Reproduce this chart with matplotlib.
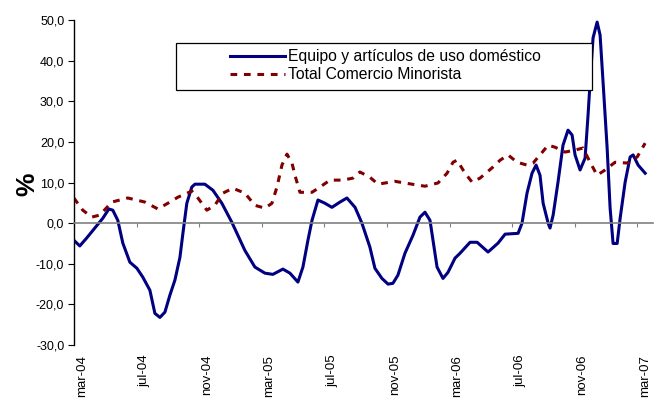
import matplotlib

matplotlib.use("Agg")
import matplotlib.pyplot as plt  # noqa: E402
from matplotlib.patches import Rectangle  # noqa: E402
from matplotlib.ticker import FuncFormatter  # noqa: E402

# x = months since mar-04 (0 = mar-04, 36 = mar-07), y = % change
equipo_x = [-0.51, -0.13, 0.30, 0.83, 1.34, 1.73, 1.98, 2.30, 2.62, 3.07, 3.52, 3.90,
            4.35, 4.67, 4.99, 5.31, 5.63, 5.95, 6.27, 6.46, 6.71, 7.03, 7.23, 7.86,
            8.38, 8.95, 9.59, 10.42, 11.06, 11.70, 12.21, 12.85, 13.30, 13.81, 14.13,
            14.45, 14.71, 15.09, 15.54, 15.98, 16.50, 16.94, 17.46, 17.90, 18.41,
            18.73, 19.18, 19.57, 19.88, 20.20, 20.65, 21.16, 21.61, 21.93, 22.25,
            22.70, 23.08, 23.40, 23.85, 24.17, 24.81, 25.26, 25.96, 26.60, 27.05,
            27.88, 28.13, 28.45, 28.77, 29.03, 29.28, 29.48, 29.80, 29.92, 30.12,
            30.43, 30.75, 31.07, 31.33, 31.52, 31.84, 32.16, 32.35, 32.48, 32.67,
            32.93, 33.12, 33.31, 33.57, 33.76, 33.95, 34.21, 34.40, 34.72, 35.04,
            35.23, 35.55, 36.00]
equipo_y = [-4.2, -5.6, -3.7, -1.2, 1.2, 3.5, 3.2, 0.7, -4.9, -9.6, -11.1, -13.3,
            -16.5, -22.2, -23.2, -21.9, -17.7, -14.0, -8.4, -2.5, 4.9, 8.9, 9.6, 9.6,
            8.1, 4.9, 0.2, -6.7, -10.8, -12.3, -12.6, -11.3, -12.3, -14.5, -10.8,
            -4.2, 0.7, 5.7, 4.9, 3.9, 5.2, 6.2, 3.9, 0.0, -5.9,
            -11.1, -13.6, -15.0, -14.8, -12.8, -7.4, -3.0, 1.5, 2.7, 0.7,
            -10.8, -13.6, -12.1, -8.6, -7.4, -4.7, -4.7, -7.1, -4.9, -2.7,
            -2.5, 0.0, 7.4, 12.3, 14.3, 11.8, 4.9, 0.0, -1.2, 2.0,
            10.1, 19.2, 22.9, 21.7, 16.8, 13.1, 16.0, 26.6, 34.7, 45.6,
            49.5, 46.3, 34.7, 18.5, 3.7, -5.0, -5.0, 1.2, 10.1, 16.3,
            16.8, 14.3, 12.3]

total_x = [-0.51, 0.06, 0.64, 1.15, 1.92, 2.94, 4.03, 4.86, 5.63, 6.14, 7.03, 7.42,
           7.99, 8.50, 9.02, 9.65, 10.42, 11.06, 11.70, 12.15, 12.47, 12.79, 13.11,
           13.43, 13.62, 13.94, 14.71, 15.22, 15.86, 16.69, 17.33, 17.77, 18.41,
           18.93, 20.01, 21.10, 21.93, 22.76, 23.34, 23.72, 23.98, 24.49, 24.94,
           25.45, 26.21, 26.73, 27.24, 27.81, 28.45, 28.84, 29.28, 29.80, 30.24,
           30.88, 31.52, 32.03, 32.48, 32.93, 33.44, 34.08, 34.85, 35.49, 36.00]
total_y = [6.2, 3.2, 1.5, 2.0, 5.2, 6.2, 5.2, 3.5, 5.2, 6.4, 7.9, 6.2,
           3.2, 4.4, 7.4, 8.6, 7.4, 4.4, 3.7, 4.9, 8.9, 14.3, 17.0,
           14.8, 11.8, 7.6, 7.6, 8.9, 10.6, 10.6, 11.1, 12.6, 11.3,
           9.6, 10.3, 9.6, 9.1, 9.9, 12.3, 15.0, 15.5, 12.3, 10.1,
           11.1, 13.6, 15.5, 16.8, 15.0, 14.3, 14.8, 16.8, 19.2, 18.7,
           17.5, 18.0, 18.5, 15.0, 11.8, 13.1, 15.0, 14.8, 16.3, 19.7]

month_pos = [0, 4, 8, 12, 16, 20, 24, 28, 32, 36]
month_labels = ["mar-04", "jul-04", "nov-04", "mar-05", "jul-05",
                "nov-05", "mar-06", "jul-06", "nov-06", "mar-07"]
y_ticks = [-30, -20, -10, 0, 10, 20, 30, 40, 50]

plt.rcParams["font.family"] = ["Liberation Sans", "DejaVu Sans"]

fig = plt.figure(figsize=(6.63, 4.05), dpi=100)
ax = fig.add_axes([0.1116, 0.148, 0.8733, 0.8025])

l1, = ax.plot(equipo_x, equipo_y, color="#000080", lw=2.2,
              solid_joinstyle="round", label="Equipo y artículos de uso doméstico")
l2, = ax.plot(total_x, total_y, color="#800000", lw=2.2, dashes=(2.2, 2.2),
              label="Total Comercio Minorista")

ax.set_xlim(-0.5, 36.5)
ax.set_ylim(-30, 50)

for s in ("top", "right"):
    ax.spines[s].set_visible(False)
ax.spines["left"].set_linewidth(1.0)
ax.spines["bottom"].set_position(("data", 0))
ax.spines["bottom"].set_color("#808080")
ax.spines["bottom"].set_linewidth(1.2)

ax.set_xticks([m - 0.5 for m in month_pos])
ax.tick_params(axis="x", direction="out", length=3, color="#808080",
               labelbottom=False)
ax.set_yticks(y_ticks)
ax.yaxis.set_major_formatter(FuncFormatter(lambda v, _: f"{v:.1f}".replace(".", ",")))
ax.tick_params(axis="y", direction="out", length=4, pad=3, labelsize=9)

sec = ax.secondary_xaxis("bottom")
sec.set_xticks(month_pos)
sec.set_xticklabels(month_labels, rotation=90, fontsize=9.5)
sec.tick_params(length=0, pad=7)
sec.spines["bottom"].set_visible(False)

fig.text(0.041, 0.545, "%", rotation=90, fontsize=19, fontweight="bold",
         ha="center", va="center")

# legend frame drawn as its own box, entries placed inside
ax.add_patch(Rectangle((0.176, 0.785), 0.719, 0.144, transform=ax.transAxes,
                       facecolor="white", edgecolor="black", lw=0.9, zorder=4))
leg = ax.legend(handles=[l1, l2], loc="upper left", bbox_to_anchor=(0.264, 0.92),
                frameon=False, fontsize=11.3, handlelength=3.5, handletextpad=0.2,
                labelspacing=0.2, borderpad=0.2, borderaxespad=0)
leg.set_zorder(5)

fig.savefig("out.png", dpi=100)
